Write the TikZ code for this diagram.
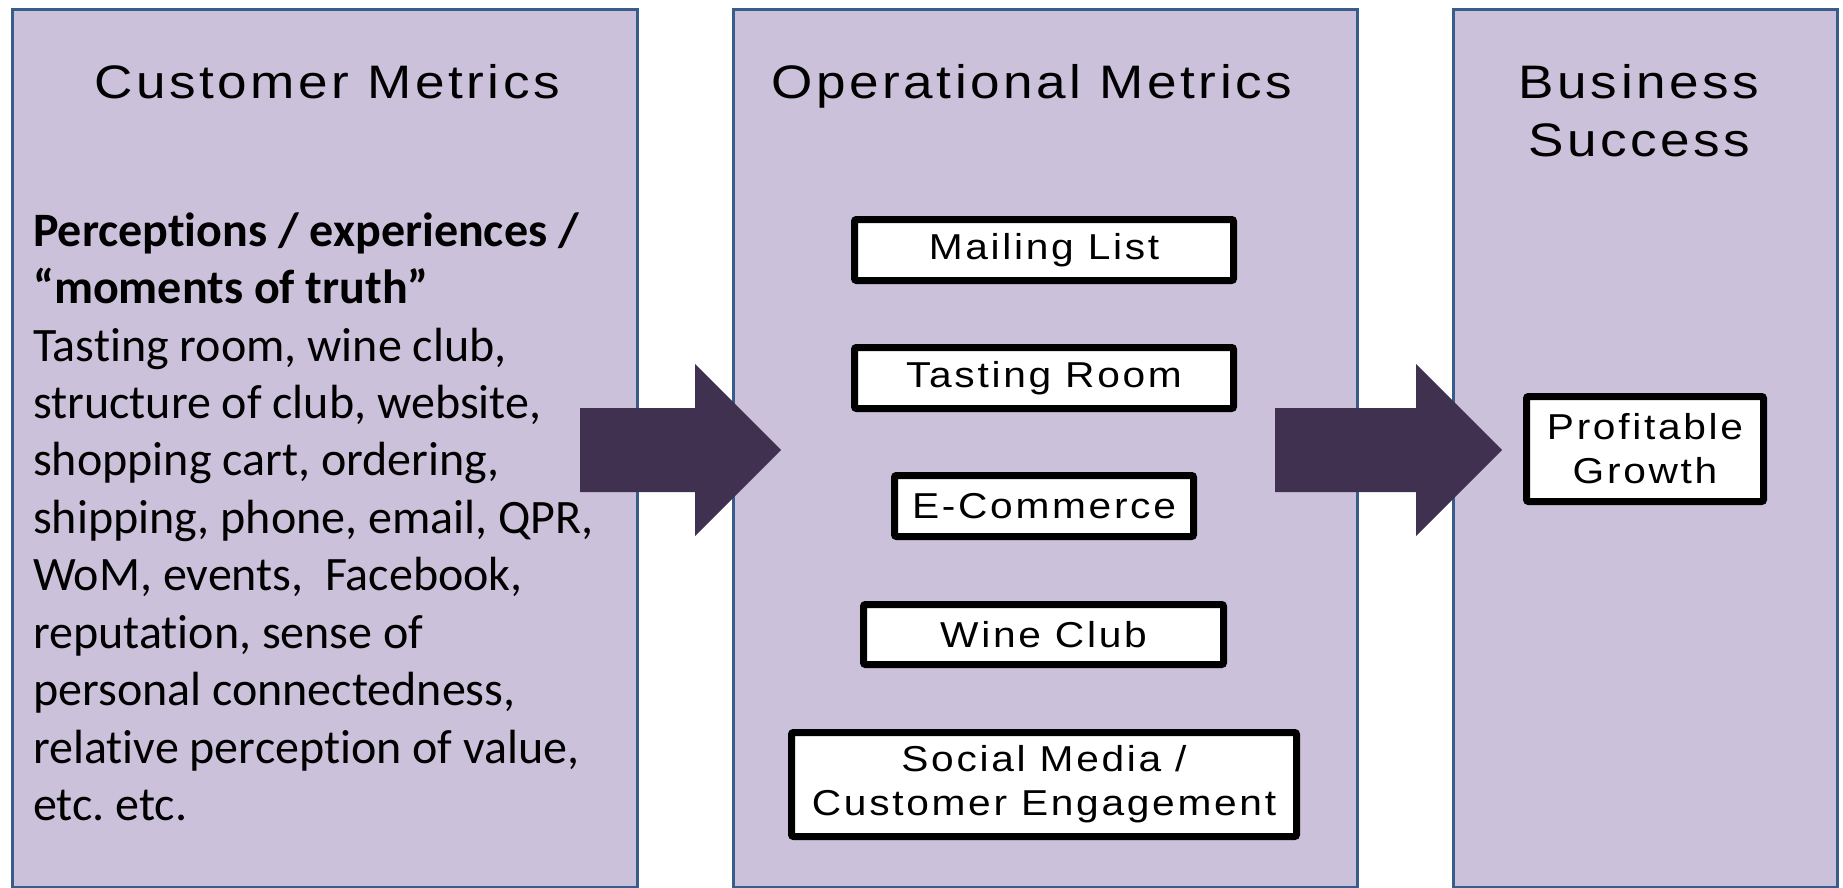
\documentclass[tikz,border=0pt]{standalone}
\usepackage{fontspec}
\setmainfont{Carlito}[Ligatures={NoCommon}]
\newfontfamily\tfont[LetterSpace=7.5,FakeStretch=1.13]{Liberation Sans}
\definecolor{colfill}{HTML}{CCC1DA}
\definecolor{colborder}{HTML}{385D8A}
\definecolor{arrowfill}{HTML}{403151}
\frenchspacing
\begin{document}
\frenchspacing
\begin{tikzpicture}[x=1pt,y=-1pt,
  column/.style={draw=colborder, line width=3pt, fill=colfill, inner sep=0, outer sep=0},
  coltitle/.style={font=\tfont\fontsize{47}{57.6}\selectfont, anchor=base, inner sep=0},
  metricbox/.style={draw=black, line width=7pt, fill=white, rounded corners=2pt, align=center,
    font=\tfont\fontsize{36}{44}\selectfont, inner sep=0},
  bodyline/.style={font=\fontsize{48}{57.5}\selectfont, anchor=base west, inner sep=0},
  blockarrow/.style={fill=arrowfill, draw=none}]
\useasboundingbox (0,0) rectangle (1843,888);
% columns
\node[column, minimum width=625pt, minimum height=877pt] (col1) at (324.5,448.5) {};
\node[column, minimum width=624pt, minimum height=877pt] (col2) at (1045,448.5) {};
\node[column, minimum width=384pt, minimum height=877pt] (col3) at (1645,448.5) {};
% titles
\node[coltitle] (t1) at (327,99) {Customer Metrics};
\node[coltitle] (t2) at (1032,99) {Operational Metrics};
\node[coltitle] (t3a) at (1639,99) {Business};
\node[coltitle] (t3b) at (1639,156) {Success};
% body text
\node[bodyline, font=\bfseries\fontsize{48}{57.5}\selectfont] (b1) at (33,246) {Perceptions / experiences /};
\node[bodyline, font=\bfseries\fontsize{48}{57.5}\selectfont] (b2) at (33,303) {“moments of truth”};
\node[bodyline] (b3) at (33,361) {Tasting room, wine club,};
\node[bodyline] (b4) at (33,418) {structure of club, website,};
\node[bodyline] (b5) at (33,475) {shopping cart, ordering,};
\node[bodyline] (b6) at (33,533) {shipping, phone, email, QPR,};
\node[bodyline] (b7) at (33,590) {WoM, events,\ \ Facebook,};
\node[bodyline] (b8) at (33,648) {reputation, sense of};
\node[bodyline] (b9) at (33,705) {personal connectedness,};
\node[bodyline] (b10) at (33,763) {relative perception of value,};
\node[bodyline] (b11) at (33,820) {etc. etc.};
% arrows
\fill[blockarrow] (580,408) -- (695,408) -- (695,364) -- (781,450) -- (695,536) -- (695,492) -- (580,492) -- cycle;
\fill[blockarrow] (1275,408) -- (1416,408) -- (1416,364) -- (1502,450) -- (1416,536) -- (1416,492) -- (1275,492) -- cycle;
% operational boxes
\node[metricbox, minimum width=379pt, minimum height=61pt] (mail) at (1044,250) {Mailing List};
\node[metricbox, minimum width=379pt, minimum height=61pt] (tast) at (1044,378) {Tasting Room};
\node[metricbox, minimum width=299pt, minimum height=61pt] (ecom) at (1044,506) {E-Commerce};
\node[metricbox, minimum width=360pt, minimum height=60pt] (wine) at (1043.5,634.5) {Wine Club};
\node[metricbox, minimum width=505pt, minimum height=104pt] (soc) at (1044,784.5) {Social Media /\\Customer Engagement};
\node[metricbox, minimum width=237pt, minimum height=105pt] (prof) at (1645,449) {Profitable\\Growth};
\end{tikzpicture}
\end{document}
